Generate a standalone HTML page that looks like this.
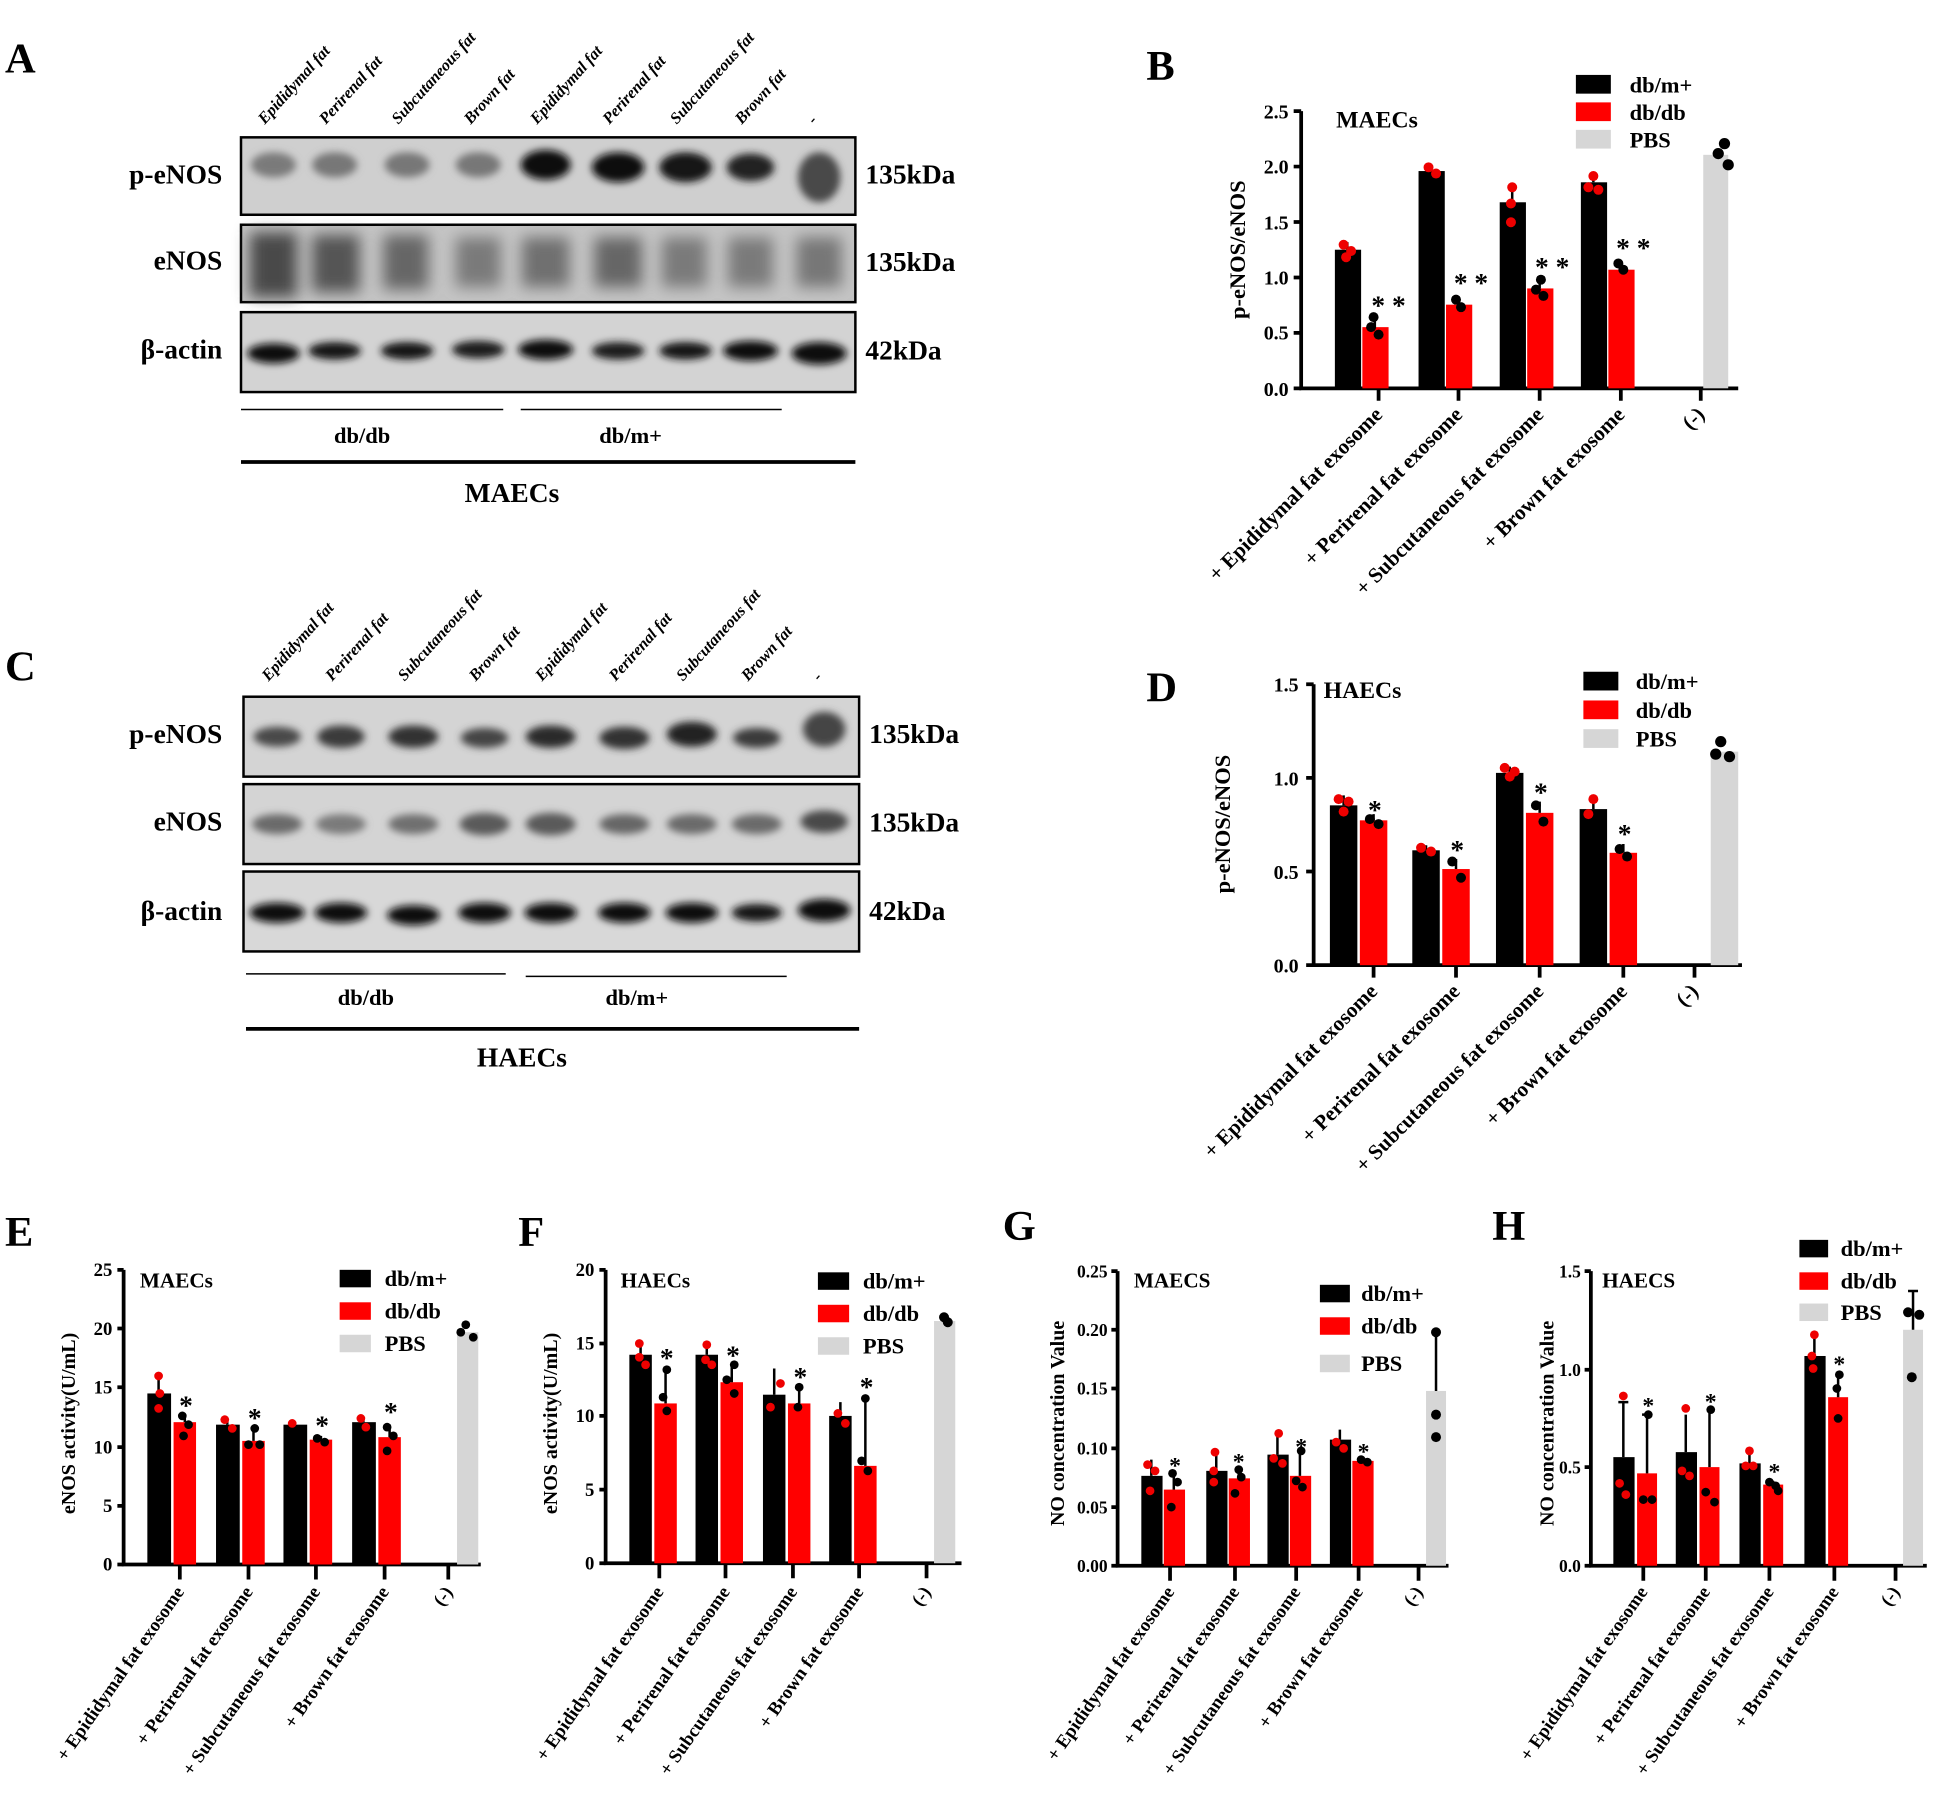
<!DOCTYPE html>
<html><head><meta charset="utf-8"><style>
html,body{margin:0;padding:0;background:#fff}
svg{display:block}
text{font-family:"Liberation Serif",serif;font-weight:bold;fill:#000}
.pl{font-size:34px}
.bl{font-size:22px}
.ln{font-size:13px;font-style:italic}
.tk{font-size:16px}
.xl{font-size:17px}
.lg{font-size:18px}
.st{font-size:22px}
.xb{font-size:15px}
</style></head><body>
<svg width="1948" height="1793" viewBox="0 0 1560 1436" preserveAspectRatio="none" xmlns="http://www.w3.org/2000/svg">
<defs>
<filter id="bl" x="-50%" y="-50%" width="200%" height="200%"><feGaussianBlur stdDeviation="3"/></filter>
<filter id="bl2" x="-50%" y="-50%" width="200%" height="200%"><feGaussianBlur stdDeviation="6"/></filter>
</defs>

<!-- ============ PANEL A ============ -->
<text class="pl" x="4" y="58">A</text>
<g class="ln">
<text transform="translate(212,100) rotate(-48)">Epididymal fat</text>
<text transform="translate(261,100) rotate(-48)">Perirenal fat</text>
<text transform="translate(319,100) rotate(-48)">Subcutaneous fat</text>
<text transform="translate(377,100) rotate(-48)">Brown fat</text>
<text transform="translate(430,100) rotate(-48)">Epididymal fat</text>
<text transform="translate(488,100) rotate(-48)">Perirenal fat</text>
<text transform="translate(542,100) rotate(-48)">Subcutaneous fat</text>
<text transform="translate(594,100) rotate(-48)">Brown fat</text>
<text transform="translate(652,100) rotate(-48)">-</text>
</g>
<text class="bl" x="178" y="147" text-anchor="end">p-eNOS</text>
<text class="bl" x="178" y="216" text-anchor="end">eNOS</text>
<text class="bl" x="178" y="287" text-anchor="end">β-actin</text>
<text class="bl" x="693" y="147">135kDa</text>
<text class="bl" x="693" y="217">135kDa</text>
<text class="bl" x="693" y="288">42kDa</text>
<rect x="193" y="110" width="492" height="62" fill="#cfcfcf" stroke="#000" stroke-width="2"/>
<rect x="193" y="180" width="492" height="62" fill="#c4c4c4" stroke="#000" stroke-width="2"/>
<rect x="193" y="250" width="492" height="64" fill="#d3d3d3" stroke="#000" stroke-width="2"/>
<g filter="url(#bl)">
<ellipse cx="219" cy="132" rx="18" ry="10" fill="#7a7a7a"/>
<ellipse cx="268" cy="132" rx="18" ry="10" fill="#777"/>
<ellipse cx="326" cy="132" rx="18" ry="10" fill="#777"/>
<ellipse cx="383" cy="132" rx="18" ry="10" fill="#777"/>
<ellipse cx="437" cy="132" rx="20" ry="12" fill="#111"/>
<ellipse cx="495" cy="134" rx="21" ry="12" fill="#111"/>
<ellipse cx="549" cy="134" rx="21" ry="12" fill="#151515"/>
<ellipse cx="601" cy="134" rx="19" ry="11" fill="#222"/>
<ellipse cx="656" cy="142" rx="17" ry="20" fill="#4a4a4a"/>
</g>
<g filter="url(#bl2)">
<rect x="200" y="186" width="38" height="52" fill="#4a4a4a"/>
<rect x="250" y="188" width="38" height="46" fill="#555"/>
<rect x="307" y="188" width="36" height="44" fill="#666"/>
<rect x="365" y="190" width="36" height="40" fill="#7a7a7a"/>
<rect x="418" y="190" width="38" height="40" fill="#707070"/>
<rect x="476" y="190" width="38" height="40" fill="#666"/>
<rect x="530" y="190" width="36" height="40" fill="#7a7a7a"/>
<rect x="583" y="190" width="36" height="40" fill="#7a7a7a"/>
<rect x="638" y="190" width="36" height="40" fill="#777"/>
</g>
<g filter="url(#bl)">
<ellipse cx="219" cy="283" rx="21" ry="8" fill="#111"/>
<ellipse cx="268" cy="281" rx="21" ry="7" fill="#151515"/>
<ellipse cx="326" cy="281" rx="21" ry="7" fill="#151515"/>
<ellipse cx="383" cy="280" rx="21" ry="7" fill="#1a1a1a"/>
<ellipse cx="437" cy="280" rx="22" ry="8" fill="#111"/>
<ellipse cx="495" cy="281" rx="21" ry="7" fill="#1a1a1a"/>
<ellipse cx="549" cy="281" rx="21" ry="7" fill="#151515"/>
<ellipse cx="601" cy="281" rx="22" ry="8" fill="#111"/>
<ellipse cx="656" cy="283" rx="22" ry="9" fill="#0a0a0a"/>
</g>
<line x1="193" y1="328" x2="403" y2="328" stroke="#000" stroke-width="1.2"/>
<line x1="417" y1="328" x2="626" y2="328" stroke="#000" stroke-width="1.2"/>
<text class="lg" x="290" y="355" text-anchor="middle">db/db</text>
<text class="lg" x="505" y="355" text-anchor="middle">db/m+</text>
<line x1="193" y1="370" x2="685" y2="370" stroke="#000" stroke-width="3"/>
<text class="bl" x="410" y="402" text-anchor="middle">MAECs</text>

<!-- ============ PANEL C ============ -->
<text class="pl" x="4" y="545">C</text>
<g class="ln">
<text transform="translate(215,546) rotate(-48)">Epididymal fat</text>
<text transform="translate(266,546) rotate(-48)">Perirenal fat</text>
<text transform="translate(324,546) rotate(-48)">Subcutaneous fat</text>
<text transform="translate(381,546) rotate(-48)">Brown fat</text>
<text transform="translate(434,546) rotate(-48)">Epididymal fat</text>
<text transform="translate(493,546) rotate(-48)">Perirenal fat</text>
<text transform="translate(547,546) rotate(-48)">Subcutaneous fat</text>
<text transform="translate(599,546) rotate(-48)">Brown fat</text>
<text transform="translate(656,546) rotate(-48)">-</text>
</g>
<text class="bl" x="178" y="595" text-anchor="end">p-eNOS</text>
<text class="bl" x="178" y="665" text-anchor="end">eNOS</text>
<text class="bl" x="178" y="737" text-anchor="end">β-actin</text>
<text class="bl" x="696" y="595">135kDa</text>
<text class="bl" x="696" y="666">135kDa</text>
<text class="bl" x="696" y="737">42kDa</text>
<rect x="195" y="558" width="493" height="64" fill="#d4d4d4" stroke="#000" stroke-width="2"/>
<rect x="195" y="628" width="493" height="64" fill="#d4d4d4" stroke="#000" stroke-width="2"/>
<rect x="195" y="698" width="493" height="64" fill="#d8d8d8" stroke="#000" stroke-width="2"/>
<g filter="url(#bl)">
<ellipse cx="222" cy="590" rx="19" ry="8" fill="#4a4a4a"/>
<ellipse cx="273" cy="590" rx="19" ry="9" fill="#3a3a3a"/>
<ellipse cx="331" cy="590" rx="20" ry="9" fill="#333"/>
<ellipse cx="388" cy="591" rx="19" ry="8" fill="#444"/>
<ellipse cx="441" cy="590" rx="20" ry="9" fill="#2a2a2a"/>
<ellipse cx="500" cy="591" rx="20" ry="9" fill="#333"/>
<ellipse cx="554" cy="588" rx="20" ry="10" fill="#222"/>
<ellipse cx="606" cy="591" rx="19" ry="8" fill="#3a3a3a"/>
<ellipse cx="660" cy="584" rx="17" ry="14" fill="#444"/>
<ellipse cx="222" cy="660" rx="20" ry="8" fill="#6a6a6a"/>
<ellipse cx="273" cy="660" rx="20" ry="8" fill="#7a7a7a"/>
<ellipse cx="331" cy="660" rx="20" ry="8" fill="#707070"/>
<ellipse cx="388" cy="660" rx="20" ry="9" fill="#5a5a5a"/>
<ellipse cx="441" cy="660" rx="20" ry="9" fill="#5a5a5a"/>
<ellipse cx="500" cy="660" rx="20" ry="8" fill="#666"/>
<ellipse cx="554" cy="660" rx="20" ry="8" fill="#6a6a6a"/>
<ellipse cx="606" cy="660" rx="20" ry="8" fill="#6a6a6a"/>
<ellipse cx="660" cy="658" rx="19" ry="9" fill="#4a4a4a"/>
<ellipse cx="222" cy="731" rx="22" ry="8" fill="#111"/>
<ellipse cx="273" cy="731" rx="21" ry="8" fill="#111"/>
<ellipse cx="331" cy="733" rx="21" ry="8" fill="#111"/>
<ellipse cx="388" cy="731" rx="21" ry="8" fill="#111"/>
<ellipse cx="441" cy="731" rx="21" ry="8" fill="#111"/>
<ellipse cx="500" cy="731" rx="21" ry="8" fill="#111"/>
<ellipse cx="554" cy="731" rx="21" ry="8" fill="#111"/>
<ellipse cx="606" cy="731" rx="20" ry="7" fill="#151515"/>
<ellipse cx="660" cy="729" rx="21" ry="9" fill="#0a0a0a"/>
</g>
<line x1="197" y1="780" x2="405" y2="780" stroke="#000" stroke-width="1.2"/>
<line x1="421" y1="782" x2="630" y2="782" stroke="#000" stroke-width="1.2"/>
<text class="lg" x="293" y="805" text-anchor="middle">db/db</text>
<text class="lg" x="510" y="805" text-anchor="middle">db/m+</text>
<line x1="197" y1="824" x2="688" y2="824" stroke="#000" stroke-width="3"/>
<text class="bl" x="418" y="854" text-anchor="middle">HAECs</text>

<!-- ============ PANEL B ============ -->
<text class="pl" x="918" y="64">B</text>
<g stroke="#000" stroke-width="3" fill="none">
<path d="M1042,89 V311 H1392"/>
<path d="M1036,89H1042M1036,133.4H1042M1036,177.8H1042M1036,222.2H1042M1036,266.6H1042M1036,311H1042"/>
<path d="M1104,311v10M1168,311v10M1233,311v10M1298,311v10M1362,311v10"/>
</g>
<g class="tk" text-anchor="end">
<text x="1032" y="95">2.5</text><text x="1032" y="139">2.0</text><text x="1032" y="184">1.5</text>
<text x="1032" y="228">1.0</text><text x="1032" y="272">0.5</text><text x="1032" y="317">0.0</text>
</g>
<text transform="translate(997,200) rotate(-90)" text-anchor="middle" style="font-size:18px">p-eNOS/eNOS</text>
<text x="1070" y="102" style="font-size:19px">MAECs</text>
<rect x="1069" y="200" width="21" height="111"/>
<rect x="1136" y="137" width="21" height="174"/>
<rect x="1201" y="162" width="21" height="149"/>
<rect x="1266" y="146" width="21" height="165"/>
<rect x="1091" y="262" width="21" height="49" fill="#f00"/>
<rect x="1158" y="244" width="21" height="67" fill="#f00"/>
<rect x="1223" y="231" width="21" height="80" fill="#f00"/>
<rect x="1288" y="216" width="21" height="95" fill="#f00"/>
<rect x="1364" y="124" width="20" height="187" fill="#d6d6d6"/>
<g stroke="#000" stroke-width="2">
<path d="M1079,194V200M1146,133V137M1211,149V162M1276,139V146M1101,252V262M1168,238V244M1233,222V231M1298,210V216"/>
</g>
<g fill="#e00">
<circle cx="1076" cy="196" r="4"/><circle cx="1082" cy="201" r="4"/><circle cx="1078" cy="206" r="4"/>
<circle cx="1144" cy="134" r="4"/><circle cx="1150" cy="139" r="4"/>
<circle cx="1211" cy="150" r="4"/><circle cx="1210" cy="163" r="4"/><circle cx="1210" cy="178" r="4"/>
<circle cx="1276" cy="141" r="4"/><circle cx="1272" cy="150" r="4"/><circle cx="1280" cy="152" r="4"/>
</g>
<g fill="#000">
<circle cx="1100" cy="254" r="4"/><circle cx="1098" cy="262" r="4"/><circle cx="1104" cy="268" r="4"/>
<circle cx="1166" cy="240" r="4"/><circle cx="1170" cy="246" r="4"/>
<circle cx="1234" cy="224" r="4"/><circle cx="1230" cy="232" r="4"/><circle cx="1236" cy="237" r="4"/>
<circle cx="1296" cy="211" r="4"/><circle cx="1300" cy="216" r="4"/>
<circle cx="1381" cy="115" r="4.5"/><circle cx="1376" cy="123" r="4.5"/><circle cx="1384" cy="132" r="4.5"/>
</g>
<g class="st" text-anchor="middle">
<text x="1112" y="252">* *</text><text x="1178" y="234">* *</text><text x="1243" y="221">* *</text><text x="1308" y="206">* *</text>
</g>
<rect x="1262" y="60" width="28" height="15"/><text class="lg" x="1305" y="74">db/m+</text>
<rect x="1262" y="82" width="28" height="15" fill="#f00"/><text class="lg" x="1305" y="96">db/db</text>
<rect x="1262" y="104" width="28" height="15" fill="#d6d6d6"/><text class="lg" x="1305" y="118">PBS</text>
<g class="xl" text-anchor="end">
<text transform="translate(1108,333) rotate(-45)">+ Epididymal fat exosome</text>
<text transform="translate(1172,333) rotate(-45)">+ Perirenal fat exosome</text>
<text transform="translate(1237,333) rotate(-45)">+ Subcutaneous fat exosome</text>
<text transform="translate(1302,333) rotate(-45)">+ Brown fat exosome</text>
<text transform="translate(1366,333) rotate(-45)">(-)</text>
</g>

<!-- ============ PANEL D ============ -->
<text class="pl" x="918" y="562">D</text>
<g stroke="#000" stroke-width="3" fill="none">
<path d="M1052,548 V773 H1395"/>
<path d="M1046,548H1052M1046,623H1052M1046,698H1052M1046,773H1052"/>
<path d="M1100,773v10M1166,773v10M1233,773v10M1300,773v10M1357,773v10"/>
</g>
<g class="tk" text-anchor="end">
<text x="1040" y="554">1.5</text><text x="1040" y="629">1.0</text><text x="1040" y="704">0.5</text><text x="1040" y="779">0.0</text>
</g>
<text transform="translate(985,660) rotate(-90)" text-anchor="middle" style="font-size:18px">p-eNOS/eNOS</text>
<text x="1060" y="559" style="font-size:19px">HAECs</text>
<rect x="1065" y="645" width="22" height="128"/>
<rect x="1131" y="681" width="22" height="92"/>
<rect x="1198" y="619" width="22" height="154"/>
<rect x="1265" y="648" width="22" height="125"/>
<rect x="1089" y="657" width="22" height="116" fill="#f00"/>
<rect x="1155" y="696" width="22" height="77" fill="#f00"/>
<rect x="1222" y="651" width="22" height="122" fill="#f00"/>
<rect x="1289" y="683" width="22" height="90" fill="#f00"/>
<rect x="1370" y="602" width="22" height="171" fill="#d6d6d6"/>
<g stroke="#000" stroke-width="2">
<path d="M1076,637V645M1142,677V681M1209,614V619M1276,637V648M1100,652V657M1166,688V696M1233,642V651M1300,676V683"/>
</g>
<g fill="#e00">
<circle cx="1072" cy="640" r="4"/><circle cx="1080" cy="642" r="4"/><circle cx="1076" cy="650" r="4"/>
<circle cx="1138" cy="679" r="4"/><circle cx="1146" cy="682" r="4"/>
<circle cx="1205" cy="615" r="4"/><circle cx="1213" cy="618" r="4"/><circle cx="1209" cy="622" r="4"/>
<circle cx="1276" cy="640" r="4"/><circle cx="1272" cy="652" r="4"/>
</g>
<g fill="#000">
<circle cx="1097" cy="656" r="4"/><circle cx="1104" cy="660" r="4"/>
<circle cx="1163" cy="690" r="4"/><circle cx="1170" cy="703" r="4"/>
<circle cx="1230" cy="645" r="4"/><circle cx="1236" cy="658" r="4"/>
<circle cx="1297" cy="680" r="4"/><circle cx="1303" cy="686" r="4"/>
<circle cx="1378" cy="594" r="4.5"/><circle cx="1374" cy="604" r="4.5"/><circle cx="1385" cy="606" r="4.5"/>
</g>
<g class="st" text-anchor="middle">
<text x="1101" y="656">*</text><text x="1167" y="688">*</text><text x="1234" y="642">*</text><text x="1301" y="675">*</text>
</g>
<rect x="1268" y="538" width="28" height="15"/><text class="lg" x="1310" y="552">db/m+</text>
<rect x="1268" y="561" width="28" height="15" fill="#f00"/><text class="lg" x="1310" y="575">db/db</text>
<rect x="1268" y="584" width="28" height="15" fill="#d6d6d6"/><text class="lg" x="1310" y="598">PBS</text>
<g class="xl" text-anchor="end">
<text transform="translate(1104,795) rotate(-45)">+ Epididymal fat exosome</text>
<text transform="translate(1170,795) rotate(-45)">+ Perirenal fat exosome</text>
<text transform="translate(1237,795) rotate(-45)">+ Subcutaneous fat exosome</text>
<text transform="translate(1304,795) rotate(-45)">+ Brown fat exosome</text>
<text transform="translate(1361,795) rotate(-45)">(-)</text>
</g>

<!-- ============ PANEL E ============ -->
<text class="pl" x="4" y="998">E</text>
<g stroke="#000" stroke-width="3" fill="none">
<path d="M99,1017 V1253 H385"/>
<path d="M94,1017H99M94,1064H99M94,1111H99M94,1159H99M94,1206H99M94,1253H99"/>
<path d="M144,1253v12M199,1253v12M253,1253v12M308,1253v12M359,1253v12"/>
</g>
<g class="tk" text-anchor="end" style="font-size:15px">
<text x="90" y="1022">25</text><text x="90" y="1069">20</text><text x="90" y="1116">15</text><text x="90" y="1164">10</text><text x="90" y="1211">5</text><text x="90" y="1258">0</text>
</g>
<text transform="translate(60,1140) rotate(-90)" text-anchor="middle" style="font-size:16px">eNOS activity(U/mL)</text>
<text x="112" y="1031" style="font-size:17px">MAECs</text>
<rect x="118" y="1116" width="19" height="137"/>
<rect x="173" y="1141" width="19" height="112"/>
<rect x="227" y="1141" width="19" height="112"/>
<rect x="282" y="1139" width="19" height="114"/>
<rect x="139" y="1139" width="18" height="114" fill="#f00"/>
<rect x="194" y="1154" width="18" height="99" fill="#f00"/>
<rect x="248" y="1153" width="18" height="100" fill="#f00"/>
<rect x="303" y="1151" width="18" height="102" fill="#f00"/>
<rect x="366" y="1067" width="17" height="186" fill="#d6d6d6"/>
<g stroke="#000" stroke-width="2"><path d="M127,1101V1116M182,1137V1141M236,1139V1141M291,1135V1139M148,1132V1139M203,1143V1154M257,1150V1153M312,1141V1151"/></g>
<g fill="#e00"><circle cx="127" cy="1102" r="3.5"/><circle cx="128" cy="1116" r="3.5"/><circle cx="127" cy="1128" r="3.5"/><circle cx="180" cy="1137" r="3.5"/><circle cx="186" cy="1144" r="3.5"/><circle cx="234" cy="1140" r="3.5"/><circle cx="289" cy="1136" r="3.5"/><circle cx="293" cy="1143" r="3.5"/></g>
<g fill="#000"><circle cx="146" cy="1134" r="3.5"/><circle cx="151" cy="1141" r="3.5"/><circle cx="147" cy="1150" r="3.5"/><circle cx="204" cy="1144" r="3.5"/><circle cx="199" cy="1157" r="3.5"/><circle cx="208" cy="1157" r="3.5"/><circle cx="254" cy="1152" r="3.5"/><circle cx="260" cy="1155" r="3.5"/><circle cx="310" cy="1143" r="3.5"/><circle cx="315" cy="1150" r="3.5"/><circle cx="310" cy="1162" r="3.5"/><circle cx="373" cy="1061" r="3.5"/><circle cx="369" cy="1067" r="3.5"/><circle cx="379" cy="1071" r="3.5"/></g>
<g class="st" text-anchor="middle"><text x="149" y="1133">*</text><text x="204" y="1143">*</text><text x="258" y="1149">*</text><text x="313" y="1138">*</text></g>
<rect x="272" y="1017" width="25" height="14"/><text class="lg" x="308" y="1030">db/m+</text>
<rect x="272" y="1043" width="25" height="14" fill="#f00"/><text class="lg" x="308" y="1056">db/db</text>
<rect x="272" y="1069" width="25" height="14" fill="#d6d6d6"/><text class="lg" x="308" y="1082">PBS</text>
<g class="xb" text-anchor="end">
<text transform="translate(148,1275) rotate(-55)">+ Epididymal fat exosome</text>
<text transform="translate(203,1275) rotate(-55)">+ Perirenal fat exosome</text>
<text transform="translate(257,1275) rotate(-55)">+ Subcutaneous fat exosome</text>
<text transform="translate(312,1275) rotate(-55)">+ Brown fat exosome</text>
<text transform="translate(363,1275) rotate(-55)">(-)</text>
</g>

<!-- ============ PANEL F ============ -->
<text class="pl" x="415" y="998">F</text>
<g stroke="#000" stroke-width="3" fill="none">
<path d="M485,1017 V1252 H770"/>
<path d="M480,1017H485M480,1076H485M480,1134H485M480,1193H485M480,1252H485"/>
<path d="M528,1252v12M581,1252v12M635,1252v12M688,1252v12M742,1252v12"/>
</g>
<g class="tk" text-anchor="end" style="font-size:15px">
<text x="476" y="1022">20</text><text x="476" y="1081">15</text><text x="476" y="1139">10</text><text x="476" y="1198">5</text><text x="476" y="1257">0</text>
</g>
<text transform="translate(446,1140) rotate(-90)" text-anchor="middle" style="font-size:16px">eNOS activity(U/mL)</text>
<text x="497" y="1031" style="font-size:17px">HAECs</text>
<rect x="504" y="1085" width="18" height="167"/>
<rect x="557" y="1085" width="18" height="167"/>
<rect x="611" y="1117" width="18" height="135"/>
<rect x="664" y="1134" width="18" height="118"/>
<rect x="524" y="1124" width="18" height="128" fill="#f00"/>
<rect x="577" y="1107" width="18" height="145" fill="#f00"/>
<rect x="631" y="1124" width="18" height="128" fill="#f00"/>
<rect x="684" y="1174" width="18" height="78" fill="#f00"/>
<rect x="748" y="1058" width="17" height="194" fill="#d6d6d6"/>
<g stroke="#000" stroke-width="2"><path d="M513,1075V1085M566,1075V1085M620,1096V1117M673,1123V1134M533,1095V1124M586,1092V1107M640,1109V1124M693,1118V1174"/></g>
<g fill="#e00"><circle cx="512" cy="1076" r="3.5"/><circle cx="512" cy="1087" r="3.5"/><circle cx="517" cy="1093" r="3.5"/><circle cx="566" cy="1077" r="3.5"/><circle cx="565" cy="1089" r="3.5"/><circle cx="570" cy="1093" r="3.5"/><circle cx="625" cy="1108" r="3.5"/><circle cx="617" cy="1127" r="3.5"/><circle cx="671" cy="1132" r="3.5"/><circle cx="677" cy="1140" r="3.5"/></g>
<g fill="#000"><circle cx="534" cy="1097" r="3.5"/><circle cx="531" cy="1119" r="3.5"/><circle cx="534" cy="1130" r="3.5"/><circle cx="588" cy="1093" r="3.5"/><circle cx="582" cy="1105" r="3.5"/><circle cx="588" cy="1116" r="3.5"/><circle cx="640" cy="1111" r="3.5"/><circle cx="639" cy="1127" r="3.5"/><circle cx="693" cy="1120" r="3.5"/><circle cx="690" cy="1170" r="3.5"/><circle cx="695" cy="1178" r="3.5"/><circle cx="756" cy="1055" r="4"/><circle cx="759" cy="1059" r="4"/></g>
<g class="st" text-anchor="middle"><text x="534" y="1095">*</text><text x="587" y="1093">*</text><text x="641" y="1110">*</text><text x="694" y="1118">*</text></g>
<rect x="655" y="1019" width="25" height="14"/><text class="lg" x="691" y="1032">db/m+</text>
<rect x="655" y="1045" width="25" height="14" fill="#f00"/><text class="lg" x="691" y="1058">db/db</text>
<rect x="655" y="1071" width="25" height="14" fill="#d6d6d6"/><text class="lg" x="691" y="1084">PBS</text>
<g class="xb" text-anchor="end">
<text transform="translate(532,1275) rotate(-55)">+ Epididymal fat exosome</text>
<text transform="translate(585,1275) rotate(-55)">+ Perirenal fat exosome</text>
<text transform="translate(639,1275) rotate(-55)">+ Subcutaneous fat exosome</text>
<text transform="translate(692,1275) rotate(-55)">+ Brown fat exosome</text>
<text transform="translate(746,1275) rotate(-55)">(-)</text>
</g>

<!-- ============ PANEL G ============ -->
<text class="pl" x="803" y="993">G</text>
<g stroke="#000" stroke-width="3" fill="none">
<path d="M895,1018 V1254 H1160"/>
<path d="M890,1018H895M890,1065H895M890,1112H895M890,1160H895M890,1207H895M890,1254H895"/>
<path d="M937,1254v12M989,1254v12M1038,1254v12M1088,1254v12M1136,1254v12"/>
</g>
<g class="tk" text-anchor="end" style="font-size:14px">
<text x="887" y="1023">0.25</text><text x="887" y="1070">0.20</text><text x="887" y="1117">0.15</text><text x="887" y="1165">0.10</text><text x="887" y="1212">0.05</text><text x="887" y="1259">0.00</text>
</g>
<text transform="translate(852,1140) rotate(-90)" text-anchor="middle" style="font-size:16px">NO concentration Value</text>
<text x="908" y="1031" style="font-size:17px">MAECS</text>
<rect x="914" y="1182" width="17" height="72"/>
<rect x="966" y="1178" width="17" height="76"/>
<rect x="1015" y="1165" width="17" height="89"/>
<rect x="1065" y="1153" width="17" height="101"/>
<rect x="932" y="1193" width="17" height="61" fill="#f00"/>
<rect x="984" y="1184" width="17" height="70" fill="#f00"/>
<rect x="1033" y="1182" width="17" height="72" fill="#f00"/>
<rect x="1083" y="1170" width="17" height="84" fill="#f00"/>
<rect x="1142" y="1114" width="16" height="140" fill="#d6d6d6"/>
<g stroke="#000" stroke-width="2"><path d="M922,1169V1182M974,1163V1178M1023,1150V1165M1073,1145V1153M940,1179V1193M992,1176V1184M1041,1162V1182M1091,1168V1170M1150,1065V1114"/></g>
<g fill="#e00"><circle cx="919" cy="1173" r="3.5"/><circle cx="925" cy="1178" r="3.5"/><circle cx="921" cy="1194" r="3.5"/><circle cx="973" cy="1163" r="3.5"/><circle cx="972" cy="1178" r="3.5"/><circle cx="972" cy="1187" r="3.5"/><circle cx="1024" cy="1148" r="3.5"/><circle cx="1020" cy="1168" r="3.5"/><circle cx="1027" cy="1172" r="3.5"/><circle cx="1070" cy="1155" r="3.5"/><circle cx="1076" cy="1160" r="3.5"/></g>
<g fill="#000"><circle cx="939" cy="1180" r="3.5"/><circle cx="943" cy="1187" r="3.5"/><circle cx="938" cy="1207" r="3.5"/><circle cx="992" cy="1177" r="3.5"/><circle cx="994" cy="1183" r="3.5"/><circle cx="989" cy="1196" r="3.5"/><circle cx="1042" cy="1162" r="3.5"/><circle cx="1038" cy="1186" r="3.5"/><circle cx="1043" cy="1191" r="3.5"/><circle cx="1090" cy="1169" r="3.5"/><circle cx="1095" cy="1171" r="3.5"/><circle cx="1150" cy="1067" r="4"/><circle cx="1150" cy="1133" r="4"/><circle cx="1150" cy="1151" r="4"/></g>
<g class="st" text-anchor="middle" style="font-size:19px"><text x="941" y="1180">*</text><text x="992" y="1177">*</text><text x="1042" y="1165">*</text><text x="1092" y="1169">*</text></g>
<rect x="1057" y="1029" width="24" height="14"/><text class="lg" x="1090" y="1042">db/m+</text>
<rect x="1057" y="1055" width="24" height="14" fill="#f00"/><text class="lg" x="1090" y="1068">db/db</text>
<rect x="1057" y="1085" width="24" height="14" fill="#d6d6d6"/><text class="lg" x="1090" y="1098">PBS</text>
<g class="xb" text-anchor="end">
<text transform="translate(941,1275) rotate(-55)">+ Epididymal fat exosome</text>
<text transform="translate(993,1275) rotate(-55)">+ Perirenal fat exosome</text>
<text transform="translate(1042,1275) rotate(-55)">+ Subcutaneous fat exosome</text>
<text transform="translate(1092,1275) rotate(-55)">+ Brown fat exosome</text>
<text transform="translate(1140,1275) rotate(-55)">(-)</text>
</g>

<!-- ============ PANEL H ============ -->
<text class="pl" x="1195" y="993">H</text>
<g stroke="#000" stroke-width="3" fill="none">
<path d="M1274,1018 V1254 H1543"/>
<path d="M1269,1018H1274M1269,1097H1274M1269,1175H1274M1269,1254H1274"/>
<path d="M1316,1254v12M1366,1254v12M1417,1254v12M1469,1254v12M1518,1254v12"/>
</g>
<g class="tk" text-anchor="end" style="font-size:14px">
<text x="1266" y="1023">1.5</text><text x="1266" y="1102">1.0</text><text x="1266" y="1180">0.5</text><text x="1266" y="1259">0.0</text>
</g>
<text transform="translate(1244,1140) rotate(-90)" text-anchor="middle" style="font-size:16px">NO concentration Value</text>
<text x="1283" y="1031" style="font-size:17px">HAECS</text>
<rect x="1292" y="1167" width="17" height="87"/>
<rect x="1342" y="1163" width="17" height="91"/>
<rect x="1393" y="1172" width="17" height="82"/>
<rect x="1445" y="1086" width="17" height="168"/>
<rect x="1311" y="1180" width="16" height="74" fill="#f00"/>
<rect x="1361" y="1175" width="16" height="79" fill="#f00"/>
<rect x="1412" y="1189" width="16" height="65" fill="#f00"/>
<rect x="1464" y="1119" width="16" height="135" fill="#f00"/>
<rect x="1524" y="1065" width="16" height="189" fill="#d6d6d6"/>
<g stroke="#000" stroke-width="2"><path d="M1300,1123V1167M1350,1133V1163M1401,1164V1172M1453,1068V1086M1319,1133V1180M1369,1130V1175M1420,1186V1189M1472,1100V1119M1532,1034V1065M1528,1034H1536M1296,1123H1304M1315,1133H1323"/></g>
<g fill="#e00"><circle cx="1300" cy="1118" r="3.5"/><circle cx="1297" cy="1188" r="3.5"/><circle cx="1302" cy="1197" r="3.5"/><circle cx="1350" cy="1128" r="3.5"/><circle cx="1347" cy="1178" r="3.5"/><circle cx="1353" cy="1182" r="3.5"/><circle cx="1401" cy="1162" r="3.5"/><circle cx="1398" cy="1174" r="3.5"/><circle cx="1404" cy="1174" r="3.5"/><circle cx="1453" cy="1069" r="3.5"/><circle cx="1451" cy="1086" r="3.5"/><circle cx="1452" cy="1096" r="3.5"/></g>
<g fill="#000"><circle cx="1320" cy="1133" r="3.5"/><circle cx="1316" cy="1201" r="3.5"/><circle cx="1323" cy="1201" r="3.5"/><circle cx="1370" cy="1129" r="3.5"/><circle cx="1366" cy="1195" r="3.5"/><circle cx="1373" cy="1203" r="3.5"/><circle cx="1417" cy="1187" r="3.5"/><circle cx="1422" cy="1190" r="3.5"/><circle cx="1424" cy="1194" r="3.5"/><circle cx="1473" cy="1101" r="3.5"/><circle cx="1471" cy="1112" r="3.5"/><circle cx="1472" cy="1136" r="3.5"/><circle cx="1528" cy="1051" r="4"/><circle cx="1537" cy="1053" r="4"/><circle cx="1531" cy="1103" r="4"/></g>
<g class="st" text-anchor="middle" style="font-size:19px"><text x="1320" y="1132">*</text><text x="1370" y="1129">*</text><text x="1421" y="1185">*</text><text x="1473" y="1099">*</text></g>
<rect x="1441" y="993" width="23" height="14"/><text class="lg" x="1474" y="1006">db/m+</text>
<rect x="1441" y="1019" width="23" height="14" fill="#f00"/><text class="lg" x="1474" y="1032">db/db</text>
<rect x="1441" y="1044" width="23" height="14" fill="#d6d6d6"/><text class="lg" x="1474" y="1057">PBS</text>
<g class="xb" text-anchor="end">
<text transform="translate(1320,1275) rotate(-55)">+ Epididymal fat exosome</text>
<text transform="translate(1370,1275) rotate(-55)">+ Perirenal fat exosome</text>
<text transform="translate(1421,1275) rotate(-55)">+ Subcutaneous fat exosome</text>
<text transform="translate(1473,1275) rotate(-55)">+ Brown fat exosome</text>
<text transform="translate(1522,1275) rotate(-55)">(-)</text>
</g>
</svg>
</body></html>
